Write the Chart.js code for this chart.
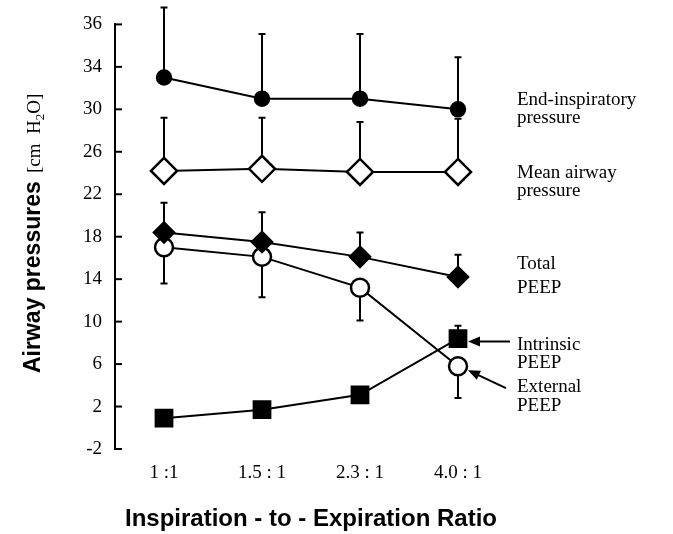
<!DOCTYPE html>
<html>
<head>
<meta charset="utf-8">
<script src="https://cdn.jsdelivr.net/npm/chart.js@4/dist/chart.umd.min.js"></script>
<style>
    body { margin: 0; background: #fff; }
    #wrap { width: 673px; height: 534px; }
</style>
</head>
<body>
<div id="wrap"><canvas id="pressureChart" width="673" height="534"></canvas></div>
<script>
// Categories (I:E ratio)
const ratios = ['1 :1', '1.5 : 1', '2.3 : 1', '4.0 : 1'];

// Series means (cm H2O)
const endInspiratory = [33.0, 31.0, 31.0, 30.0];
const meanAirway = [24.2, 24.4, 24.1, 24.1];
const totalPeep = [18.4, 17.5, 16.1, 14.2];
const externalPeep = [17.0, 16.1, 13.2, 5.8];
const intrinsicPeep = [0.9, 1.7, 3.1, 8.4];

// Standard deviations (one-sided bars)
const endInspiratorySd = [6.6, 6.1, 6.1, 4.9];
const meanAirwaySd = [5.0, 4.8, 4.7, 5.0];
const totalPeepSd = [2.8, 2.8, 2.3, 2.1];
const externalPeepSd = [3.4, 3.8, 3.1, 3.0];
const intrinsicPeepSd = [0, 0, 0, 1.2];

// Y axis ticks (the top tick is printed as 36 in the original)
const yTicks = [-2, 2, 6, 10, 14, 18, 22, 26, 30, 34, 38];
const yTickLabels = ['-2', '2', '6', '10', '14', '18', '22', '26', '30', '34', '36'];

const serif = '"Liberation Serif", "Times New Roman", serif';
const sans = '"Liberation Sans", Arial, sans-serif';

// Right-hand series labels
const seriesLabels = [
    { lines: ['End-inspiratory', 'pressure'], y: [105, 123] },
    { lines: ['Mean airway', 'pressure'], y: [178, 196] },
    { lines: ['Total', 'PEEP'], y: [269, 293] },
    { lines: ['Intrinsic', 'PEEP'], y: [350, 368] },
    { lines: ['External', 'PEEP'], y: [392, 411] }
];

function makeSet(label, data, style, radius, fill, sd, dir) {
    return {
        label: label,
        data: data,
        sd: sd,
        sdDir: dir,
        borderColor: '#000',
        backgroundColor: fill,
        pointBackgroundColor: fill,
        pointBorderColor: '#000',
        pointBorderWidth: 2.5,
        pointStyle: style,
        pointRadius: radius,
        borderWidth: 2,
        tension: 0,
        fill: false
    };
}

// Error bars drawn through the scales, under the markers
const errorBars = {
    id: 'errorBars',
    beforeDatasetsDraw(chart) {
        const ctx = chart.ctx;
        const y = chart.scales.y;
        ctx.save();
        ctx.strokeStyle = '#000';
        ctx.lineWidth = 2;
        chart.data.datasets.forEach((ds, i) => {
            const meta = chart.getDatasetMeta(i);
            meta.data.forEach((pt, j) => {
                const sd = ds.sd[j];
                if (!sd) return;
                const y0 = y.getPixelForValue(ds.data[j]);
                const y1 = y.getPixelForValue(ds.data[j] + ds.sdDir * sd);
                ctx.beginPath();
                ctx.moveTo(pt.x, y0);
                ctx.lineTo(pt.x, y1);
                ctx.moveTo(pt.x - 3.5, y1);
                ctx.lineTo(pt.x + 3.5, y1);
                ctx.stroke();
            });
        });
        ctx.restore();
    }
};

function arrow(ctx, x0, y0, x1, y1) {
    const a = Math.atan2(y1 - y0, x1 - x0);
    const len = 12, half = 5;
    ctx.beginPath();
    ctx.moveTo(x0, y0);
    ctx.lineTo(x1 - Math.cos(a) * len * 0.8, y1 - Math.sin(a) * len * 0.8);
    ctx.stroke();
    ctx.beginPath();
    ctx.moveTo(x1, y1);
    ctx.lineTo(x1 - Math.cos(a) * len + Math.sin(a) * half, y1 - Math.sin(a) * len - Math.cos(a) * half);
    ctx.lineTo(x1 - Math.cos(a) * len - Math.sin(a) * half, y1 - Math.sin(a) * len + Math.cos(a) * half);
    ctx.closePath();
    ctx.fill();
}

// Inner ticks, y title, labels and arrows
const decorations = {
    id: 'decorations',
    afterDraw(chart) {
        const ctx = chart.ctx;
        const area = chart.chartArea;
        const y = chart.scales.y;
        ctx.save();
        ctx.strokeStyle = '#000';
        ctx.fillStyle = '#000';
        ctx.lineWidth = 2;

        yTicks.forEach(v => {
            const py = y.getPixelForValue(v);
            ctx.beginPath();
            ctx.moveTo(area.left, py);
            ctx.lineTo(area.left + 7, py);
            ctx.stroke();
        });

        // y title: bold part then serif unit, rotated about (0, 228)
        ctx.save();
        ctx.translate(0, 228);
        ctx.rotate(-Math.PI / 2);
        ctx.textBaseline = 'alphabetic';
        ctx.textAlign = 'left';
        ctx.font = 'bold 23px ' + sans;
        ctx.fillText('Airway pressures', -145, 40);
        let x = 55;
        ctx.font = '19px ' + serif;
        ctx.fillText('[cm  H', x, 40);
        x += ctx.measureText('[cm  H').width;
        ctx.font = '13px ' + serif;
        ctx.fillText('2', x, 44);
        x += ctx.measureText('2').width;
        ctx.font = '19px ' + serif;
        ctx.fillText('O]', x, 40);
        ctx.restore();

        // series labels
        ctx.font = '19px ' + serif;
        ctx.textAlign = 'left';
        ctx.textBaseline = 'alphabetic';
        seriesLabels.forEach(s => {
            s.lines.forEach((t, k) => ctx.fillText(t, 517, s.y[k]));
        });

        // arrows to the 4.0 : 1 markers
        const last = ratios.length - 1;
        const pIn = chart.getDatasetMeta(4).data[last];
        const pEx = chart.getDatasetMeta(3).data[last];
        arrow(ctx, 510, pIn.y + 3, pIn.x + 10, pIn.y + 3);
        arrow(ctx, 506, pEx.y + 22, pEx.x + 10, pEx.y + 4);
        ctx.restore();
    }
};

const ctx = document.getElementById('pressureChart').getContext('2d');
const pressureChart = new Chart(ctx, {
    type: 'line',
    data: {
        labels: ratios,
        datasets: [
            makeSet('End-inspiratory pressure', endInspiratory, 'circle', 7, '#000', endInspiratorySd, 1),
            makeSet('Mean airway pressure', meanAirway, 'rectRot', 13, '#fff', meanAirwaySd, 1),
            makeSet('Total PEEP', totalPeep, 'rectRot', 10, '#000', totalPeepSd, 1),
            makeSet('External PEEP', externalPeep, 'circle', 9, '#fff', externalPeepSd, -1),
            makeSet('Intrinsic PEEP', intrinsicPeep, 'rect', 11.5, '#000', intrinsicPeepSd, 1)
        ]
    },
    options: {
        responsive: false,
        animation: false,
        layout: {
            padding: { left: 0, top: 24, right: 166, bottom: 0 }
        },
        plugins: {
            legend: { display: false },
            tooltip: { enabled: false }
        },
        scales: {
            x: {
                type: 'category',
                offset: true,
                grid: { display: false, drawTicks: false },
                border: { display: false },
                ticks: {
                    color: '#000',
                    padding: 13,
                    font: { family: serif, size: 19 }
                },
                title: {
                    display: true,
                    text: 'Inspiration - to - Expiration Ratio',
                    color: '#000',
                    font: { family: sans, size: 24, weight: 'bold' },
                    padding: { top: 0, bottom: 0 }
                },
                afterFit(scale) { scale.height = 85; }
            },
            y: {
                min: -2,
                max: 38,
                grid: { drawOnChartArea: false, drawTicks: false },
                border: { display: true, color: '#000', width: 2 },
                ticks: {
                    stepSize: 4,
                    color: '#000',
                    padding: 13,
                    font: { family: serif, size: 19 },
                    callback: (v) => {
                        const k = yTicks.indexOf(v);
                        return k >= 0 ? yTickLabels[k] : '';
                    }
                },
                afterFit(scale) { scale.width = 115; }
            }
        }
    },
    plugins: [errorBars, decorations]
});
</script>
</body>
</html>
